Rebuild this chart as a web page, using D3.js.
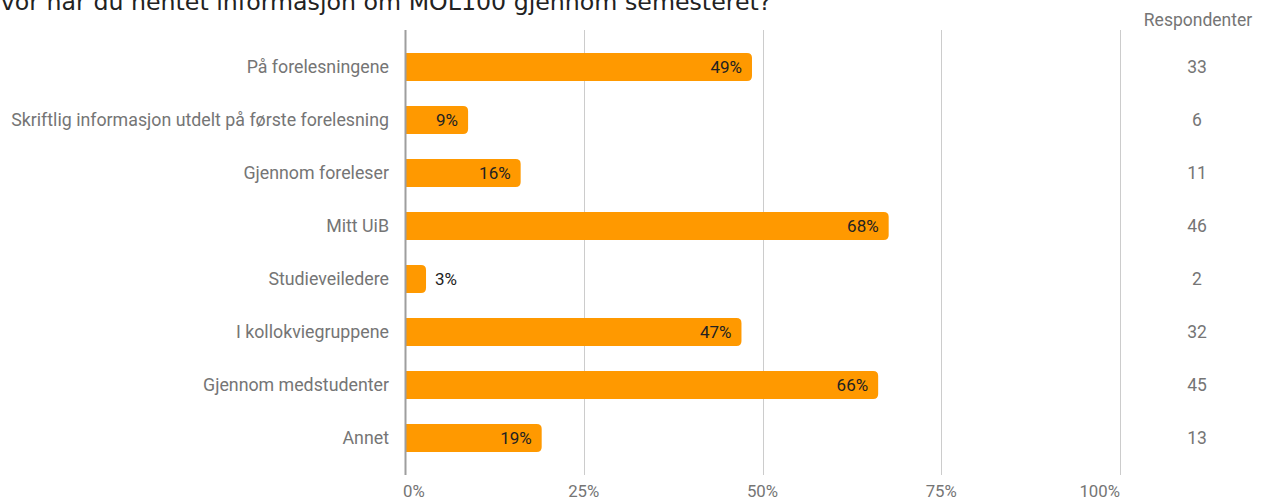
<!DOCTYPE html>
<html><head><meta charset="utf-8">
<script src="https://cdn.jsdelivr.net/npm/d3@7"></script>
<style>body{margin:0;background:#fff;overflow:hidden}</style>
</head><body>
<svg id="c" width="1263" height="501"></svg>
<script>
const title = "Hvor har du hentet informasjon om MOL100 gjennom semesteret?";
const categories = ["På forelesningene","Skriftlig informasjon utdelt på første forelesning","Gjennom foreleser","Mitt UiB","Studieveiledere","I kollokviegruppene","Gjennom medstudenter","Annet"];
const respondents = [33, 6, 11, 46, 2, 32, 45, 13];
const totalRespondents = 68;
const percentLabels = ["49%","9%","16%","68%","3%","47%","66%","19%"];
const tickValues = [0, 0.25, 0.5, 0.75, 1];
const tickLabels = ["0%","25%","50%","75%","100%"];
const columnHeader = "Respondenter";

const svg = d3.select("#c");
const x = d3.scaleLinear().domain([0,1]).range([405,1120]);
const y = d3.scaleBand().domain(categories).range([40.5,464.5]).paddingInner(0.47).paddingOuter(0.235);
const gray = "#757575";

svg.append("text").attr("x",-17).attr("y",9.5).attr("font-family","DejaVu Sans").attr("font-size",23.7).attr("fill","#222").text(title);

// grid
svg.append("g").selectAll("line").data(tickValues.slice(1)).join("line")
  .attr("x1",d=>Math.round(x(d))+0.5).attr("x2",d=>Math.round(x(d))+0.5).attr("y1",30).attr("y2",475)
  .attr("stroke","#cccccc").attr("stroke-width",1);

// x axis labels
const xa = d3.axisBottom(x).tickValues(tickValues).tickFormat((d,i)=>tickLabels[i]).tickSize(0);
const gx = svg.append("g").attr("transform","translate(0,497)").call(xa);
gx.select(".domain").remove();
gx.selectAll("text").attr("font-family","Roboto").attr("font-size",16.8).attr("fill",gray).attr("dy",0).attr("y",0)
  .attr("text-anchor",(d,i)=> i===0 ? "start" : (i===tickValues.length-1 ? "end" : "middle"));
gx.selectAll(".tick").attr("transform",(d,i)=>`translate(${x(d)+(i===0?-2:0)},0)`);

// category labels
const ya = d3.axisLeft(y).tickSize(0).tickPadding(0);
const gy = svg.append("g").attr("transform","translate(389,0)").call(ya);
gy.select(".domain").remove();
gy.selectAll("text").attr("font-family","Roboto").attr("font-size",17.8).attr("fill",gray);

const vals = respondents.map(r=>r/totalRespondents);
const r = 5;
function barPath(d){
  const x0 = x(0), x1 = x(d);
  const w = x1-x0, h = y.bandwidth();
  const rr = Math.min(r, w/2);
  return `M${x0},0 H${x1-rr} Q${x1},0 ${x1},${rr} V${h-rr} Q${x1},${h} ${x1-rr},${h} H${x0} Z`;
}
const bars = svg.append("g").selectAll("g").data(categories).join("g")
  .attr("transform",d=>`translate(0,${y(d)})`);
bars.append("path").attr("d",(d,i)=>barPath(vals[i])).attr("fill","#ff9900");
bars.append("text")
  .attr("x",(d,i)=> vals[i] > 0.06 ? x(vals[i]) - 10 : x(vals[i]) + 9)
  .attr("y",y.bandwidth()/2).attr("dy","0.35em")
  .attr("text-anchor",(d,i)=> vals[i] > 0.06 ? "end" : "start")
  .attr("font-family","Roboto").attr("font-size",17).attr("fill","#222")
  .text((d,i)=>percentLabels[i]);

// axis line
svg.append("line").attr("x1",405.5).attr("x2",405.5).attr("y1",30).attr("y2",475).attr("stroke","#9e9e9e").attr("stroke-width",2);

// respondents column
svg.append("text").attr("x",1198).attr("y",20).attr("dy","0.35em").attr("text-anchor","middle")
  .attr("font-family","Roboto").attr("font-size",17.5).attr("fill",gray).text(columnHeader);
svg.append("g").selectAll("text").data(categories).join("text")
  .attr("x",1197).attr("y",d=>y(d)+y.bandwidth()/2).attr("dy","0.35em").attr("text-anchor","middle")
  .attr("font-family","Roboto").attr("font-size",17.5).attr("fill",gray)
  .text((d,i)=>respondents[i]);
</script>
</body></html>
